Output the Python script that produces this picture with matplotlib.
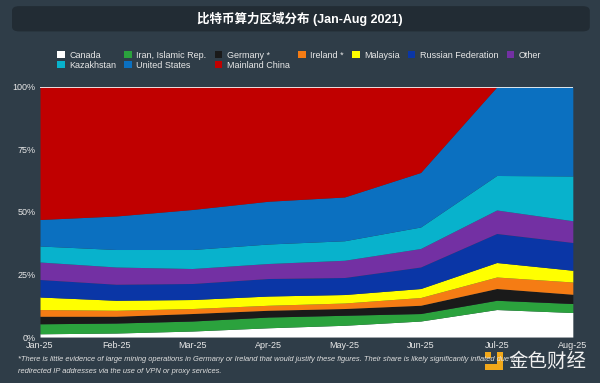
import matplotlib.pyplot as plt
from matplotlib.patches import FancyBboxPatch, Rectangle
import numpy as np

plt.rcParams['font.family'] = ['Liberation Sans', 'Noto Sans CJK SC', 'DejaVu Sans']

months = ["Jan-25", "Feb-25", "Mar-25", "Apr-25", "May-25", "Jun-25", "Jul-25", "Aug-25"]

# cumulative tops (percent)
canada_top = [1.3, 1.6, 2.4, 3.7, 4.7, 6.4, 11.0, 9.8]
iran_top = [5.3, 5.6, 6.4, 8.0, 8.7, 9.4, 14.7, 13.4]
germany_top = [8.3, 8.3, 9.4, 10.7, 11.4, 12.7, 19.4, 17.1]
ireland_top = [11.0, 10.7, 11.4, 12.7, 13.6, 15.8, 24.0, 22.0]
malaysia_top = [16.0, 14.7, 15.0, 16.4, 17.0, 19.4, 29.8, 26.7]
russia_top = [23.0, 21.1, 21.4, 23.4, 23.8, 28.0, 41.4, 37.8]
other_top = [30.0, 28.0, 27.4, 29.4, 30.7, 35.4, 50.8, 46.5]
kazakhstan_top = [36.4, 35.0, 35.0, 37.2, 38.5, 44.0, 64.6, 64.4]
us_top = [47.0, 48.4, 51.0, 54.3, 56.0, 65.8, 100.0, 100.0]
china_top = [100.0] * 8

names = ["Canada", "Iran, Islamic Rep.", "Germany *", "Ireland *", "Malaysia",
         "Russian Federation", "Other", "Kazakhstan", "United States", "Mainland China"]
tops = [canada_top, iran_top, germany_top, ireland_top, malaysia_top,
        russia_top, other_top, kazakhstan_top, us_top, china_top]
colors = ["#ffffff", "#2ba23d", "#1a1a1a", "#f57c14", "#ffff00",
          "#0a36a6", "#7330a3", "#08b2cc", "#0b70c0", "#c00000"]

bg = "#2f3d48"
fig = plt.figure(figsize=(6, 3.83), dpi=100, facecolor=bg)
ax = fig.add_axes([0.0667, 0.12, 0.888, 0.653])
ax.set_facecolor(bg)

x = np.arange(len(months))
prev = np.zeros(len(months))
handles = []
for name, top, c in zip(names, tops, colors):
    top = np.array(top)
    h = ax.fill_between(x, prev, top, color=c, lw=0, label=name)
    handles.append(h)
    prev = top

ax.axhline(100, color="white", lw=1.2)
ax.set_xlim(0, len(months) - 1)
ax.set_ylim(0, 100)
ax.set_xticks(x)
ax.set_xticklabels(months)
ax.set_yticks([0, 25, 50, 75, 100])
ax.set_yticklabels(["0%", "25%", "50%", "75%", "100%"])
ax.tick_params(colors="#e8e8e8", labelsize=6.5, length=0, pad=3)
for s in ax.spines.values():
    s.set_visible(False)

# legend: two rows, column-major order
order = [0, 7, 1, 8, 2, 9, 3, 4, 5, 6]
fig.legend([handles[i] for i in order], [names[i] for i in order],
           loc="upper left", bbox_to_anchor=(0.095, 0.867), ncol=7, frameon=False,
           fontsize=6.5, labelcolor="#e8e8e8", handlelength=0.85, handleheight=0.85,
           handletextpad=0.5, columnspacing=0.9, labelspacing=0.1,
           borderpad=0, borderaxespad=0)

# title box
box = FancyBboxPatch((0.02, 0.918), 0.963, 0.066, boxstyle="round,pad=0,rounding_size=0.012",
                     transform=fig.transFigure, facecolor="#222c34", edgecolor="none")
fig.patches.append(box)
fig.text(0.5, 0.951, "比特币算力区域分布 (Jan-Aug 2021)", ha="center", va="center",
         color="white", fontsize=9, fontweight="bold")

fig.text(0.03, 0.058, "*There is little evidence of large mining operations in Germany or Ireland that would justify these figures. "
         "Their share is likely significantly inflated due to", color="#e0e0e0", fontsize=5.4, style="italic")
fig.text(0.03, 0.025, "redirected IP addresses via the use of VPN or proxy services.",
         color="#e0e0e0", fontsize=5.4, style="italic")

# watermark
fig.text(0.913, 0.057, "金色财经", ha="center", va="center", color="#f0f0f0", fontsize=14,
         family=["Noto Sans CJK SC", "DejaVu Sans"])
logo = "#f2a81a"
for (lx, ly, lw_, lh) in [(485, 352, 6, 6), (497, 352, 6, 18), (485, 364, 18, 6)]:
    fig.patches.append(Rectangle((lx / 600, 1 - (ly + lh) / 383), lw_ / 600, lh / 383,
                                 transform=fig.transFigure, facecolor=logo, edgecolor="none"))

fig.savefig("out.png", dpi=100, facecolor=bg)
